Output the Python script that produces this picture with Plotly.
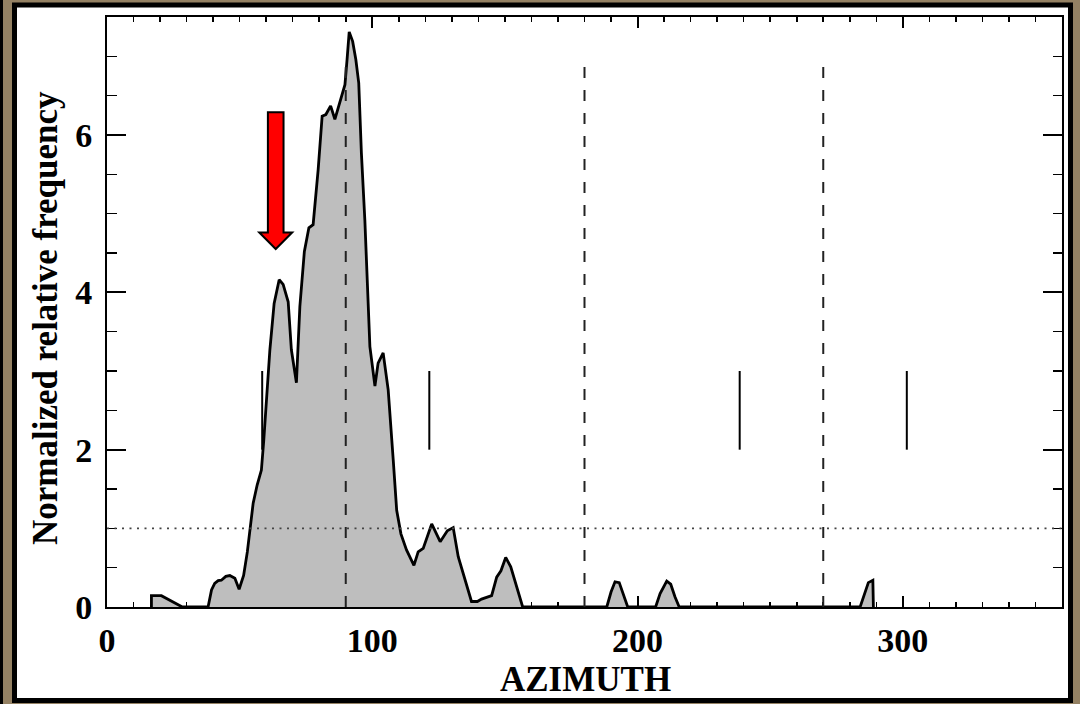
import plotly.graph_objects as go

# ---------------- data ----------------
azimuth = [16.75, 16.75, 20.5, 23.0, 26.2, 28.4, 38.1, 39.4, 40.6, 41.9, 43.1, 44.8,
           46.3, 48.2, 49.8, 51.5, 52.9, 53.8, 55.1, 56.6, 58.2, 59.1, 60.1, 61.4,
           63.0, 64.9, 66.4, 68.3, 69.5, 71.4, 72.7, 74.4, 76.1, 77.7, 79.6, 81.1,
           82.5, 84.3, 85.9, 87.8, 89.7, 90.5, 91.3, 92.6, 93.8, 94.9, 95.9, 97.2,
           98.2, 99.1, 101.0, 102.2, 104.1, 106.0, 107.9, 109.2, 110.8, 112.9, 115.7,
           117.3, 119.2, 122.4, 125.6, 128.3, 130.5, 132.4, 137.4, 139.6, 141.2,
           143.7, 145.0, 146.9, 148.5, 150.3, 152.2, 156.7, 188.4, 190.0, 191.5,
           193.1, 194.6, 196.3, 206.8, 208.5, 211.0, 212.5, 214.1, 215.7, 283.9,
           285.8, 287.0, 288.7, 288.9]
frequency = [0.0, 0.144, 0.144, 0.10, 0.047, 0.0, 0.0, 0.216, 0.30, 0.335, 0.34, 0.39,
             0.40, 0.365, 0.225, 0.40, 0.70, 0.98, 1.32, 1.55, 1.74, 2.12, 2.59, 3.27,
             3.86, 4.16, 4.10, 3.88, 3.27, 2.85, 3.82, 4.52, 4.82, 4.86, 5.56, 6.24,
             6.26, 6.37, 6.20, 6.41, 6.64, 6.96, 7.31, 7.19, 6.96, 6.66, 5.77, 4.92,
             4.07, 3.31, 2.81, 3.10, 3.23, 2.76, 1.87, 1.23, 0.93, 0.725, 0.53,
             0.70, 0.745, 1.056, 0.83, 0.97, 1.01, 0.64, 0.07, 0.07, 0.10,
             0.13, 0.144, 0.38, 0.46, 0.63, 0.51, 0.0, 0.0, 0.19, 0.32,
             0.31, 0.17, 0.0, 0.0, 0.17, 0.33, 0.29, 0.13, 0.0, 0.0,
             0.19, 0.31, 0.34, 0.0]

dashed_azimuths = [90, 180, 270]
dashed_top = 7.0
threshold_level = 1.0
marker_azimuths = [58.5, 121.5, 238.5, 301.5]
marker_range = [2.0, 3.0]

arrow_azimuth = 63.6
arrow_top = 6.29
arrow_head_base = 4.76
arrow_tip = 4.55
arrow_shaft_half = 2.95
arrow_head_half = 6.2

x_tick_vals = [0, 100, 200, 300]
y_tick_vals = [0, 2, 4, 6]

# ---------------- layout geometry (pixels) ----------------
W, H = 1080, 704
L, R, T, B = 107, 1062, 17, 607
pw, ph = R - L, B - T


def px(xp):
    return (xp - L) / pw


def py(yp):
    return (B - yp) / ph


FONT = "Liberation Serif"

fig = go.Figure()
fig.add_trace(go.Scatter(
    x=azimuth, y=frequency, mode="lines", fill="tozeroy",
    fillcolor="#bebebe", line=dict(color="black", width=2.8),
    hoverinfo="skip", showlegend=False))

shapes = []
# outer white panel with black frame
shapes.append(dict(type="rect", xref="paper", yref="paper", layer="below",
                   x0=px(14.5), x1=px(1070.5), y0=py(700.5), y1=py(5),
                   fillcolor="white", line=dict(color="black", width=5)))
shapes.append(dict(type="line", xref="paper", yref="paper", layer="below",
                   x0=px(1.5), x1=px(1.5), y0=py(0), y1=py(704),
                   line=dict(color="black", width=3)))
# dashed verticals
for a in dashed_azimuths:
    shapes.append(dict(type="line", xref="x", yref="y", x0=a, x1=a, y0=0, y1=dashed_top,
                       line=dict(color="#222222", width=2, dash="11px,12px")))
# dotted horizontal
shapes.append(dict(type="line", xref="x", yref="y", x0=0, x1=360,
                   y0=threshold_level, y1=threshold_level,
                   line=dict(color="#444444", width=1.6, dash="2px,5.5px")))
# short markers
for a in marker_azimuths:
    shapes.append(dict(type="line", xref="x", yref="y", x0=a, x1=a,
                       y0=marker_range[0], y1=marker_range[1],
                       line=dict(color="black", width=2)))
# red arrow
ax = arrow_azimuth
path = (f"M {ax - arrow_shaft_half},{arrow_top} L {ax + arrow_shaft_half},{arrow_top} "
        f"L {ax + arrow_shaft_half},{arrow_head_base} L {ax + arrow_head_half},{arrow_head_base} "
        f"L {ax},{arrow_tip} L {ax - arrow_head_half},{arrow_head_base} "
        f"L {ax - arrow_shaft_half},{arrow_head_base} Z")
shapes.append(dict(type="path", xref="x", yref="y", path=path,
                   fillcolor="#ff0000", line=dict(color="black", width=2)))

annotations = [
    dict(text="Normalized relative frequency", xref="paper", yref="paper",
         x=px(45), y=py(318), textangle=-90, showarrow=False,
         xanchor="center", yanchor="middle",
         font=dict(family=FONT, size=35, color="black", weight="bold")),
    dict(text="AZIMUTH", xref="paper", yref="paper",
         x=px(585), y=py(679), showarrow=False, xanchor="center", yanchor="middle",
         font=dict(family=FONT, size=35, color="black", weight="bold")),
]

fig.update_layout(
    width=W, height=H,
    margin=dict(l=L, r=W - R, t=T, b=H - B, pad=0, autoexpand=False),
    paper_bgcolor="#948163", plot_bgcolor="white",
    shapes=shapes, annotations=annotations, showlegend=False,
    xaxis=dict(range=[0, 360], tickvals=x_tick_vals, ticks="inside", ticklen=11,
               tickwidth=2, tickcolor="black", showline=True, linecolor="black",
               linewidth=2, mirror="ticks", showgrid=False, zeroline=False,
               layer="below traces", ticklabelstandoff=2, automargin=False,
               minor=dict(dtick=10, ticks="inside", ticklen=5, tickwidth=1.6,
                          tickcolor="black", showgrid=False),
               tickfont=dict(family=FONT, size=34, color="black", weight="bold")),
    yaxis=dict(range=[0, 7.5], tickvals=y_tick_vals, ticks="inside", ticklen=19,
               tickwidth=2, tickcolor="black", showline=True, linecolor="black",
               linewidth=2, mirror="ticks", showgrid=False, zeroline=False,
               layer="below traces", ticklabelstandoff=6, automargin=False,
               minor=dict(dtick=0.5, ticks="inside", ticklen=9.5, tickwidth=1.6,
                          tickcolor="black", showgrid=False),
               tickfont=dict(family=FONT, size=34, color="black", weight="bold")),
)

fig.write_html("out.html",
               config=dict(displayModeBar=False, staticPlot=True),
               post_script="document.body.style.margin='0';"
                           "document.body.style.overflow='hidden';")
